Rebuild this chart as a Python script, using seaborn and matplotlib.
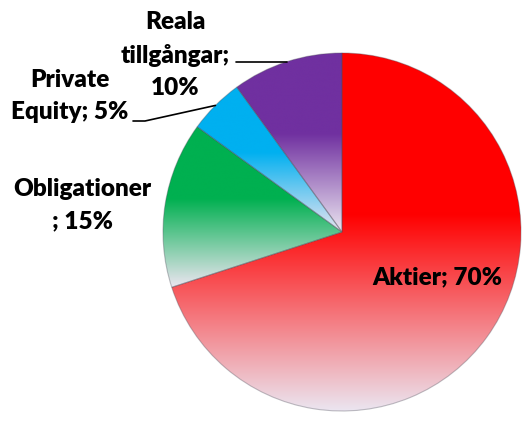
import numpy as np
import matplotlib
matplotlib.use('Agg')
import matplotlib.pyplot as plt
from matplotlib.colors import LinearSegmentedColormap
import seaborn as sns

# Data
labels = ['Aktier', 'Obligationer', 'Private Equity', 'Reala tillgångar']
shares = [70, 15, 5, 10]
label_texts = ['Aktier; 70%', 'Obligationer\n; 15%', 'Private\nEquity; 5%', 'Reala\ntillgångar;\n10%']
colors = ['#ff0000', '#00b050', '#00b0f0', '#7030a0']

sns.set_theme(style='white')
plt.rcParams['font.family'] = ['Lato', 'DejaVu Sans']

# pie centre at pixel (342, 232), radius ~179 px
CX, CY, R = 342, 232, 179
W, H = 522, 423


def px(x, y):
    return (x - CX) / R, (CY - y) / R


fig = plt.figure(figsize=(W / 100, H / 100), dpi=100)
ax = fig.add_axes([0, 0, 1, 1])

wedges, _ = ax.pie(shares, startangle=90, counterclock=False, radius=1,
                   colors=colors, wedgeprops=dict(linewidth=0))

pale = '#ebe5f0'
for w, c in zip(wedges, colors):
    t = np.deg2rad(np.linspace(w.theta1, w.theta2, 200))
    xs = np.concatenate([[0], np.cos(t)])
    ys = np.concatenate([[0], np.sin(t)])
    x0, x1, y0, y1 = xs.min(), xs.max(), ys.min(), ys.max()
    cmap = LinearSegmentedColormap.from_list('g', [(0, c), (0.45, c), (1, pale)])
    grad = np.linspace(0, 1, 256).reshape(-1, 1)
    im = ax.imshow(grad, cmap=cmap, extent=[x0, x1, y0, y1], aspect='auto',
                   interpolation='bicubic', zorder=2)
    im.set_clip_path(w)
    w.set_facecolor('none')
    w.set_edgecolor((0.3, 0.3, 0.35, 0.35))
    w.set_linewidth(0.8)
    w.set_zorder(3)

ax.set_xlim(px(0, 0)[0], px(W, 0)[0])
ax.set_ylim(px(0, H)[1], px(0, 0)[1])
ax.set_aspect('equal')
ax.axis('off')

font = dict(fontsize=17.5, fontweight='heavy', color='black', ha='center',
            va='center', linespacing=1.55)
ax.text(*px(437, 277), label_texts[0], **font)
ax.text(*px(82, 205), label_texts[1], **font)
ax.text(*px(70, 96), label_texts[2], **font)
ax.text(*px(175, 55), label_texts[3], **font)

# leader lines to wedge edges
def edge(w):
    a = np.deg2rad((w.theta1 + w.theta2) / 2)
    return np.cos(a), np.sin(a)

ex, ey = edge(wedges[3])
sx, sy = px(236, 0)[0], ey
ax.plot([sx, ex], [sy, ey], color='black', lw=1.2, zorder=4)

ex, ey = edge(wedges[2])
p0 = px(133, 121)
p1 = px(145, 121)
ax.plot([p0[0], p1[0], ex], [p0[1], p1[1], ey], color='black', lw=1.2, zorder=4)

fig.savefig('out.png', dpi=100)
